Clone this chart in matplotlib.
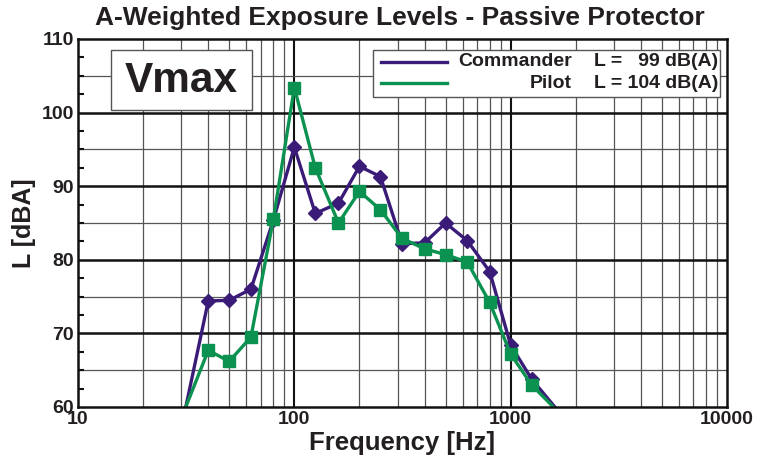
import matplotlib
matplotlib.use("Agg")
import matplotlib.pyplot as plt
import numpy as np
from matplotlib.ticker import FixedLocator, NullFormatter, FixedFormatter

plt.rcParams['font.family'] = ['Liberation Sans', 'DejaVu Sans']

freq = [31.5, 40, 50, 63, 80, 100, 125, 160, 200, 250, 315, 400, 500, 630, 800, 1000, 1250, 1600]
commander = [60.0, 74.4, 74.5, 76.0, 85.4, 95.3, 86.3, 87.7, 92.7, 91.3, 82.2, 82.3, 85.0, 82.6, 78.4, 68.4, 63.8, 60.0]
pilot = [60.0, 67.7, 66.2, 69.5, 85.5, 103.4, 92.5, 85.0, 89.3, 86.8, 82.9, 81.5, 80.7, 79.7, 74.2, 67.2, 63.0, 59.8]
series_names = ["Commander", "Pilot"]
series_levels = ["L =   99 dB(A)", "L = 104 dB(A)"]
x_ticks = [10, 100, 1000, 10000]
y_ticks = [60, 70, 80, 90, 100, 110]

TXT = '#231f20'
C_CMD = '#3a1c78'
C_PIL = '#0b9150'

fig = plt.figure(figsize=(7.62, 4.62), dpi=100)
ax = fig.add_axes([78/762, 1-407/462, (727-78)/762, (407-39)/462])
ax.set_xscale('log')
ax.set_xlim(10, 10000)
ax.set_ylim(60, 110)

# grid
minor_x = [m * 10**e for e in range(1, 4) for m in range(2, 10)]
for xv in minor_x:
    ax.axvline(xv, color='#555555', lw=0.9, zorder=1)
for xv in [100, 1000]:
    ax.axvline(xv, color='#111111', lw=1.5, zorder=1)
for yv in np.arange(65, 110, 10):
    ax.axhline(yv, color='#555555', lw=0.9, zorder=1)
for yv in np.arange(70, 110, 10):
    ax.axhline(yv, color='#111111', lw=1.8, zorder=1)

ax.plot(freq, commander, color=C_CMD, lw=2.4, marker='D', ms=7.5,
        markevery=slice(1, len(freq) - 1), zorder=4, clip_on=True)
ax.plot(freq, pilot, color=C_PIL, lw=2.4, marker='s', ms=8.5,
        markevery=slice(1, len(freq) - 1), zorder=5, clip_on=True)

ax.xaxis.set_major_locator(FixedLocator(x_ticks))
ax.xaxis.set_major_formatter(FixedFormatter([str(v) for v in x_ticks]))
ax.xaxis.set_minor_locator(FixedLocator([]))
ax.xaxis.set_minor_formatter(NullFormatter())
ax.yaxis.set_major_locator(FixedLocator(y_ticks))
ax.yaxis.set_minor_locator(FixedLocator(list(np.arange(62.5, 110, 2.5))))
ax.tick_params(axis='x', which='major', length=0, pad=3, labelsize=14, labelcolor=TXT)
ax.tick_params(axis='y', which='major', length=0, pad=3, labelsize=14, labelcolor=TXT)
ax.tick_params(axis='y', which='minor', direction='in', length=4, width=1.5, color='#111111')
for lab in ax.get_xticklabels() + ax.get_yticklabels():
    lab.set_fontweight('bold')
for sp in ax.spines.values():
    sp.set_linewidth(1.8)
    sp.set_color('#111111')
    sp.set_zorder(6)

ax.set_xlabel('Frequency [Hz]', fontsize=18.5, fontweight='bold', color=TXT, labelpad=2)
ax.set_ylabel('L [dBA]', fontsize=18, fontweight='bold', color=TXT, labelpad=4)
fig.text(400/762, 1-18/462, 'A-Weighted Exposure Levels - Passive Protector',
         ha='center', va='center', fontsize=19, fontweight='bold', color=TXT)

# Vmax box
fig.patches.append(plt.Rectangle((111/762, 1-110/462), (252-111)/762, (110-50)/462,
                                 transform=fig.transFigure, facecolor='white',
                                 edgecolor='#555555', lw=1.0, zorder=10))
fig.text(181/762, 1-81/462, 'Vmax', ha='center', va='center', fontsize=30.5,
         fontweight='bold', color=TXT, zorder=11)

# legend box
fig.patches.append(plt.Rectangle((373/762, 1-97/462), (720-373)/762, (97-50)/462,
                                 transform=fig.transFigure, facecolor='white',
                                 edgecolor='#555555', lw=1.0, zorder=10))
for i, (nm, lv, col) in enumerate(zip(series_names, series_levels, [C_CMD, C_PIL])):
    yy = 1 - (62 + 21 * i) / 462
    fig.add_artist(plt.Line2D([381/762, 447/762], [yy, yy], color=col, lw=2.4,
                              transform=fig.transFigure, zorder=11))
    fig.text(572/762, yy, nm, ha='right', va='center', fontsize=14,
             fontweight='bold', color=TXT, zorder=11)
    fig.text(718/762, yy, lv, ha='right', va='center', fontsize=14,
             fontweight='bold', color=TXT, zorder=11)

fig.savefig('out.png', dpi=100)
